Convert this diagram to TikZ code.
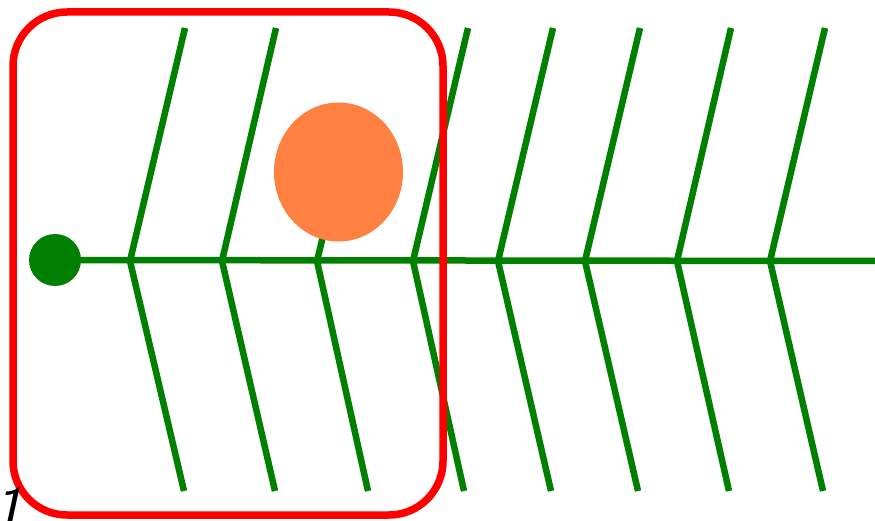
\documentclass[tikz,border=0pt]{standalone}
\usetikzlibrary{shapes.geometric}
\definecolor{bonegreen}{RGB}{0,128,0}
\definecolor{fruit}{RGB}{255,128,64}
\definecolor{frame}{RGB}{255,0,0}
\begin{document}
\begin{tikzpicture}[x=1pt,y=-1pt,
  bone/.style={draw=bonegreen,line width=6.5pt},
  framebox/.style={draw=frame,line width=7.5pt,rounded corners=54pt},
  headdot/.style={circle,fill=bonegreen,minimum size=52pt,inner sep=0pt},
  fruitnode/.style={ellipse,fill=fruit,minimum width=129pt,minimum height=139pt,inner sep=0pt},
  labeltext/.style={font=\fontsize{62}{62}\selectfont\sffamily\itshape,inner sep=0pt,anchor=base west}]
\useasboundingbox (0,0) rectangle (875,521);
% spine
\node[headdot] (head) at (55,260) {};
\coordinate (tail) at (875,261);
\draw[bone] (head.center) -- (tail);
% chevrons
\foreach \i/\vx/\tx/\bx in {1/130/185/184, 2/222/276/275, 4/413/468/464, 5/498/553/551, 6/585/640/638, 7/677/731/729, 8/770/825/823}{
  \coordinate (v\i) at (\vx,261);
  \coordinate (t\i) at (\tx,28);
  \coordinate (b\i) at (\bx,491);
  \draw[bone] (t\i) -- (v\i) -- (b\i);
}
\coordinate (v3) at (317,261);
\coordinate (b3) at (368,491);
\coordinate (t3) at (338.5,172);
\draw[bone] (t3) -- (v3) -- (b3);
\node[fruitnode] (fruit) at (338.5,172) {};
% frame
\coordinate (frameA) at (13,12);
\coordinate (frameB) at (443,515);
\draw[framebox] (frameA) rectangle (frameB);
% label
\node[labeltext] (lbl) at (-7,529) {1};
\end{tikzpicture}
\end{document}
